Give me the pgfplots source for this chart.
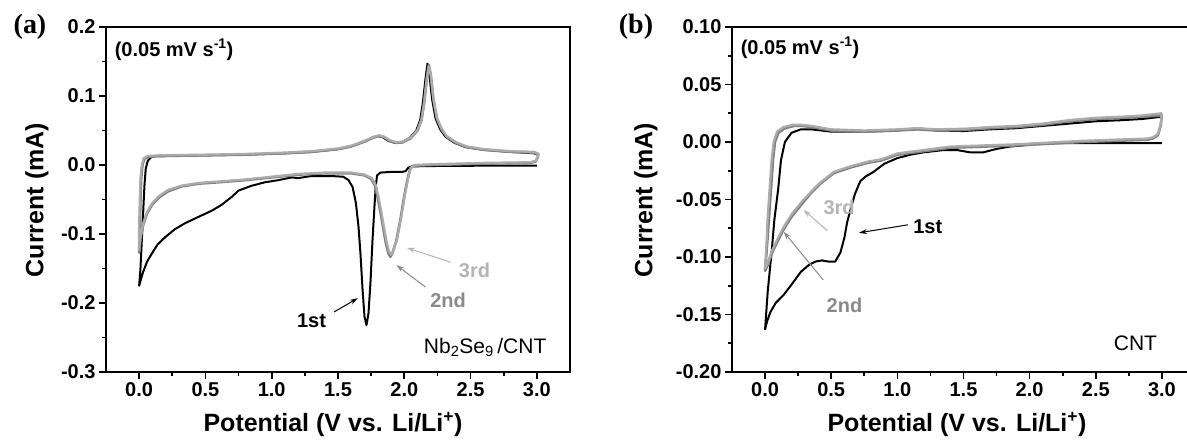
\documentclass[border=0pt]{standalone}
\usepackage{pgfplots}
\pgfplotsset{compat=1.18}
\usepackage{fontspec}
\setmainfont{Liberation Sans}
\newfontfamily\serifb{Liberation Serif}
\usetikzlibrary{arrows.meta}
\definecolor{gtwo}{HTML}{7F7F7F}
\definecolor{gthree}{HTML}{ABABAB}
\definecolor{ltwo}{HTML}{8A8A8A}
\definecolor{lthree}{HTML}{B4B4B4}
\newcommand\tl{\fontsize{20}{24}\selectfont\bfseries}
\newcommand\al{\fontsize{25}{30}\selectfont\bfseries}
\newcommand\an{\fontsize{20}{24}\selectfont\bfseries}
\pgfplotsset{
  cvaxis/.style={
    scale only axis, height=345pt,
    axis line style={line width=2.4pt},
    tick align=outside, xtick pos=left, ytick pos=left,
    major tick length=7pt, minor tick length=4pt,
    every tick/.style={black, line width=1.6pt},
    minor x tick num=1, minor y tick num=1,
    xmin=-0.25,
    xtick={0,0.5,1,1.5,2,2.5,3},
    xticklabels={0.0,0.5,1.0,1.5,2.0,2.5,3.0},
    ticklabel style={font=\tl},
    clip=false,
  },
  c1/.style={black, line width=2pt, line join=round},
  c2/.style={gtwo, line width=2.6pt, line join=round},
  c3/.style={gthree, line width=2.3pt, line join=round},
}
\begin{document}
\begin{tikzpicture}
\useasboundingbox (0,0) rectangle (1187pt,443pt);
% ---------------- panel (a)
\begin{axis}[cvaxis, at={(106pt,71pt)}, anchor=south west, width=464pt,
  xmax=3.25, ymin=-0.3, ymax=0.2,
  ytick={-0.3,-0.2,-0.1,0,0.1,0.2},
  yticklabels={-0.3,-0.2,-0.1,0.0,0.1,0.2}]
\addplot[c1] coordinates {
(3.0,-0.001)(2.6,-0.001)(2.2,-0.0015)(2.06,-0.002)(2.03,-0.004)(2.01,-0.009)(1.98,-0.010)(1.90,-0.010)(1.82,-0.011)
(1.795,-0.015)(1.785,-0.03)(1.775,-0.06)(1.76,-0.11)(1.745,-0.17)(1.73,-0.215)(1.715,-0.232)(1.70,-0.22)(1.685,-0.18)
(1.67,-0.13)(1.655,-0.09)(1.635,-0.055)(1.61,-0.032)(1.58,-0.022)(1.54,-0.017)(1.45,-0.016)(1.3,-0.016)(1.2,-0.019)
(1.15,-0.018)(1.05,-0.022)(0.95,-0.025)(0.85,-0.030)(0.75,-0.037)(0.70,-0.046)(0.62,-0.058)(0.55,-0.066)(0.45,-0.075)
(0.35,-0.084)(0.27,-0.093)(0.20,-0.104)(0.14,-0.115)(0.10,-0.127)(0.06,-0.14)(0.03,-0.155)(0.01,-0.168)(0.0,-0.175)
(0.01,-0.15)(0.02,-0.11)(0.03,-0.07)(0.04,-0.03)(0.05,-0.005)(0.065,0.006)(0.09,0.011)(0.12,0.013)(0.2,0.013)(0.5,0.014)
(0.8,0.015)(1.1,0.017)(1.3,0.019)(1.5,0.023)(1.6,0.027)(1.7,0.034)(1.76,0.040)(1.80,0.042)(1.84,0.040)(1.88,0.035)
(1.93,0.032)(1.98,0.033)(2.04,0.039)(2.09,0.05)(2.12,0.065)(2.14,0.09)(2.16,0.125)(2.175,0.147)(2.19,0.13)(2.21,0.095)
(2.235,0.068)(2.27,0.052)(2.31,0.041)(2.38,0.032)(2.46,0.026)(2.6,0.022)(2.8,0.019)(2.98,0.017)(3.0,0.015)};
\addplot[c2] coordinates {
(3.01,0.012)(2.99,0.005)(2.95,0.003)(2.6,0.002)(2.2,0.0)(2.07,-0.001)(2.045,-0.005)(2.025,-0.02)(2.0,-0.045)(1.97,-0.08)
(1.94,-0.11)(1.91,-0.128)(1.895,-0.133)(1.88,-0.128)(1.86,-0.112)(1.84,-0.09)(1.82,-0.068)(1.80,-0.048)(1.78,-0.03)
(1.75,-0.02)(1.70,-0.015)(1.6,-0.012)(1.4,-0.012)(1.2,-0.014)(1.0,-0.018)(0.8,-0.022)(0.6,-0.025)(0.45,-0.027)
(0.32,-0.031)(0.22,-0.038)(0.15,-0.047)(0.10,-0.057)(0.06,-0.07)(0.03,-0.087)(0.01,-0.107)(0.0,-0.127)
(0.005,-0.09)(0.01,-0.05)(0.015,-0.02)(0.025,0.0)(0.04,0.009)(0.07,0.012)(0.15,0.013)(0.5,0.014)
(0.8,0.015)(1.1,0.017)(1.3,0.019)(1.5,0.023)(1.6,0.027)(1.7,0.034)(1.77,0.040)(1.81,0.042)(1.85,0.040)(1.89,0.035)
(1.94,0.032)(1.99,0.033)(2.05,0.039)(2.10,0.05)(2.13,0.065)(2.15,0.09)(2.17,0.125)(2.185,0.145)(2.20,0.13)(2.22,0.095)
(2.245,0.068)(2.28,0.052)(2.32,0.041)(2.39,0.032)(2.47,0.026)(2.6,0.022)(2.8,0.019)(2.98,0.018)(3.01,0.015)(3.01,0.012)};
\addplot[c3] coordinates {
(3.01,0.013)(2.99,0.006)(2.95,0.004)(2.6,0.003)(2.2,0.001)(2.08,0.0)(2.05,-0.004)(2.03,-0.018)(2.005,-0.043)(1.975,-0.078)
(1.945,-0.108)(1.915,-0.126)(1.90,-0.130)(1.885,-0.126)(1.865,-0.11)(1.845,-0.088)(1.825,-0.066)(1.805,-0.046)(1.785,-0.029)
(1.755,-0.019)(1.70,-0.014)(1.6,-0.011)(1.4,-0.011)(1.2,-0.013)(1.0,-0.017)(0.8,-0.021)(0.6,-0.024)(0.45,-0.026)
(0.32,-0.030)(0.22,-0.036)(0.15,-0.045)(0.10,-0.055)(0.06,-0.068)(0.03,-0.085)(0.01,-0.104)(0.0,-0.123)
(0.0,-0.09)(0.005,-0.05)(0.01,-0.02)(0.02,0.0)(0.035,0.01)(0.065,0.013)(0.15,0.014)(0.5,0.015)
(0.8,0.016)(1.1,0.018)(1.3,0.020)(1.5,0.024)(1.6,0.028)(1.7,0.035)(1.77,0.041)(1.81,0.043)(1.85,0.041)(1.89,0.036)
(1.94,0.033)(1.99,0.034)(2.05,0.040)(2.10,0.051)(2.13,0.066)(2.15,0.091)(2.17,0.126)(2.185,0.143)(2.20,0.13)(2.22,0.096)
(2.245,0.069)(2.28,0.053)(2.32,0.042)(2.39,0.033)(2.47,0.027)(2.6,0.023)(2.8,0.020)(2.98,0.019)(3.015,0.016)(3.01,0.013)};
\node[anchor=west, font=\an] at (axis cs:-0.21,0.167) {(0.05 mV s\textsuperscript{-1})};
\node[font=\an, text=lthree] at (axis cs:2.53,-0.152) {3rd};
\node[font=\an, text=ltwo] at (axis cs:2.33,-0.196) {2nd};
\node[font=\an] at (axis cs:1.30,-0.225) {1st};
\draw[lthree, line width=1pt, -{Stealth[length=8pt,width=5pt]}] (axis cs:2.35,-0.141) -- (axis cs:2.02,-0.120);
\draw[ltwo, line width=1pt, -{Stealth[length=8pt,width=5pt]}] (axis cs:2.16,-0.177) -- (axis cs:1.94,-0.145);
\draw[black, line width=1pt, -{Stealth[length=8pt,width=5pt]}] (axis cs:1.47,-0.213) -- (axis cs:1.65,-0.193);
\node[font=\fontsize{21}{25}\selectfont] at (axis cs:2.61,-0.265) {Nb\textsubscript{2}Se\textsubscript{9}\,/CNT};
\end{axis}
% ---------------- panel (b)
\begin{axis}[cvaxis, at={(732pt,71pt)}, anchor=south west, width=463pt,
  xmax=3.25, ymin=-0.2, ymax=0.1,
  ytick={-0.2,-0.15,-0.1,-0.05,0,0.05,0.1},
  yticklabels={-0.20,-0.15,-0.10,-0.05,0.00,0.05,0.10}]
\addplot[c1] coordinates {
(3.0,-0.001)(2.5,-0.001)(2.05,-0.001)(1.95,-0.003)(1.85,-0.004)(1.75,-0.006)(1.65,-0.009)(1.55,-0.009)(1.45,-0.007)
(1.35,-0.007)(1.2,-0.009)(1.1,-0.011)(1.0,-0.014)(0.9,-0.019)(0.82,-0.026)(0.76,-0.030)(0.72,-0.034)(0.68,-0.045)
(0.65,-0.057)(0.62,-0.07)(0.60,-0.083)(0.57,-0.096)(0.53,-0.104)(0.48,-0.104)(0.43,-0.103)(0.38,-0.104)(0.33,-0.107)
(0.27,-0.113)(0.2,-0.124)(0.14,-0.133)(0.08,-0.14)(0.04,-0.148)(0.015,-0.156)(0.0,-0.163)
(0.02,-0.13)(0.05,-0.095)(0.07,-0.068)(0.10,-0.04)(0.12,-0.016)(0.15,0.0)(0.2,0.008)(0.27,0.011)(0.35,0.011)
(0.5,0.009)(0.75,0.009)(1.0,0.010)(1.15,0.012)(1.3,0.010)(1.5,0.0095)(1.7,0.011)(1.9,0.012)(2.1,0.014)(2.3,0.016)
(2.5,0.018)(2.7,0.019)(2.85,0.020)(3.0,0.022)};
\addplot[c2] coordinates {
(3.0,0.023)(2.99,0.014)(2.97,0.006)(2.93,0.003)(2.89,0.002)(2.4,0.0)(1.9,-0.003)(1.4,-0.005)(1.0,-0.011)(0.88,-0.016)
(0.78,-0.018)(0.65,-0.022)(0.52,-0.027)(0.42,-0.036)(0.35,-0.044)(0.27,-0.055)(0.2,-0.065)(0.14,-0.076)(0.1,-0.085)
(0.05,-0.097)(0.02,-0.107)(0.0,-0.112)
(0.015,-0.09)(0.03,-0.065)(0.045,-0.04)(0.06,-0.015)(0.075,0.0)(0.1,0.008)(0.15,0.012)(0.22,0.014)(0.28,0.014)
(0.35,0.013)(0.5,0.010)(0.75,0.009)(1.0,0.010)(1.15,0.011)(1.3,0.010)(1.5,0.0105)(1.7,0.012)(1.9,0.013)(2.1,0.015)
(2.3,0.018)(2.5,0.020)(2.7,0.021)(2.85,0.022)(3.0,0.023)};
\addplot[c3] coordinates {
(3.0,0.025)(2.99,0.015)(2.97,0.007)(2.93,0.004)(2.89,0.003)(2.4,0.001)(1.9,-0.002)(1.4,-0.004)(1.0,-0.010)(0.88,-0.015)
(0.78,-0.017)(0.65,-0.021)(0.52,-0.026)(0.42,-0.035)(0.35,-0.043)(0.27,-0.053)(0.2,-0.063)(0.14,-0.074)(0.1,-0.083)
(0.05,-0.095)(0.02,-0.105)(0.0,-0.110)
(0.01,-0.09)(0.02,-0.065)(0.035,-0.04)(0.05,-0.015)(0.065,0.0)(0.09,0.009)(0.14,0.013)(0.21,0.015)(0.27,0.015)
(0.35,0.014)(0.5,0.011)(0.75,0.010)(1.0,0.011)(1.15,0.012)(1.3,0.011)(1.5,0.0115)(1.7,0.013)(1.9,0.014)(2.1,0.016)
(2.3,0.019)(2.5,0.021)(2.7,0.022)(2.85,0.023)(3.0,0.025)};
\node[anchor=west, font=\an] at (axis cs:-0.21,0.082) {(0.05 mV s\textsuperscript{-1})};
\node[font=\an, text=lthree] at (axis cs:0.56,-0.057) {3rd};
\node[font=\an, text=ltwo] at (axis cs:0.60,-0.142) {2nd};
\node[font=\an] at (axis cs:1.23,-0.074) {1st};
\draw[lthree, line width=1pt, -{Stealth[length=8pt,width=5pt]}] (axis cs:0.47,-0.077) -- (axis cs:0.29,-0.059);
\draw[ltwo, line width=1pt, -{Stealth[length=8pt,width=5pt]}] (axis cs:0.44,-0.12) -- (axis cs:0.14,-0.078);
\draw[black, line width=1pt, -{Stealth[length=8pt,width=5pt]}] (axis cs:1.08,-0.072) -- (axis cs:0.71,-0.079);
\node[font=\fontsize{21}{25}\selectfont] at (axis cs:2.80,-0.175) {CNT};
\end{axis}
% ---------------- labels
\node[rotate=90, font=\al] at (37pt,243pt) {Current (mA)};
\node[rotate=90, font=\al] at (646pt,243pt) {Current (mA)};
\node[font=\al] at (333pt,19pt) {Potential (V vs. Li/Li\textsuperscript{+})};
\node[font=\al] at (957pt,19pt) {Potential (V vs. Li/Li\textsuperscript{+})};
\node[font=\serifb\fontsize{28}{32}\selectfont\bfseries] at (30pt,416pt) {(a)};
\node[font=\serifb\fontsize{28}{32}\selectfont\bfseries] at (636pt,416pt) {(b)};
\end{tikzpicture}
\end{document}
